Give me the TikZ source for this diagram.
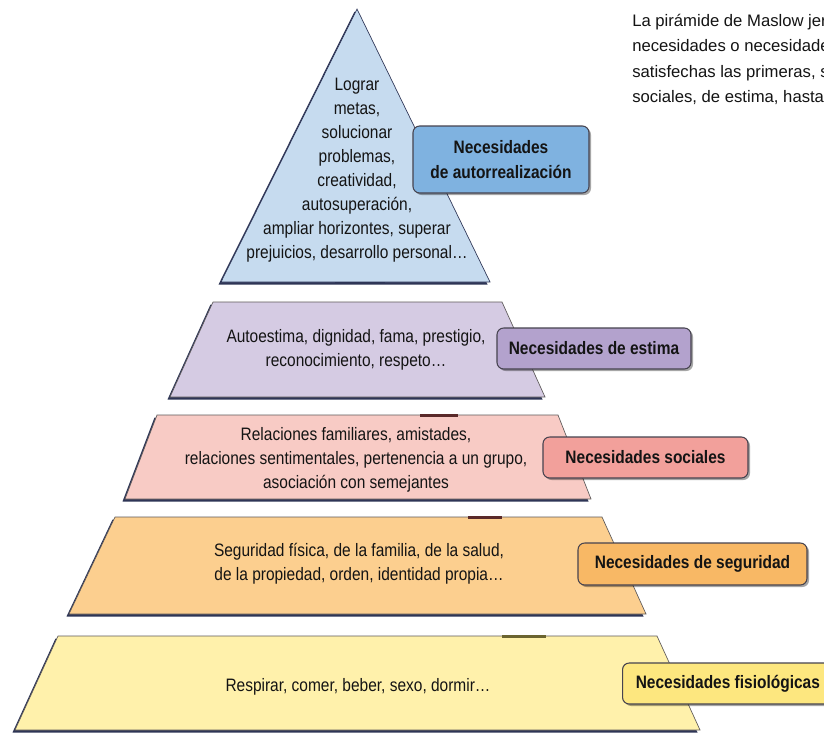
\documentclass[tikz,border=0pt]{standalone}
\usepackage{fontspec}
\setmainfont{Liberation Sans}
\newfontfamily\condfont[FakeStretch=0.86]{Liberation Sans}
\usetikzlibrary{shadows}
\definecolor{navy}{HTML}{2E3556}
\definecolor{edgegray}{HTML}{5E5A5A}
\definecolor{txt}{HTML}{141414}
\definecolor{tagedge}{HTML}{46434F}
\definecolor{tfill}{HTML}{C6DBEF}
\definecolor{tlab}{HTML}{7FB2E0}
\definecolor{efill}{HTML}{D5CBE3}
\definecolor{elab}{HTML}{B3A2CD}
\definecolor{sfill}{HTML}{F8CBC5}
\definecolor{slab}{HTML}{F2A09B}
\definecolor{gfill}{HTML}{FCCF8F}
\definecolor{glab}{HTML}{F8B865}
\definecolor{ffill}{HTML}{FFF1AB}
\definecolor{flab}{HTML}{FDE77F}
\definecolor{darkred}{HTML}{5A2A2A}
\definecolor{darkolive}{HTML}{6B6430}
\begin{document}
\begin{tikzpicture}[x=0.75pt,y=-0.75pt,
  layerbox/.style={draw=edgegray, line width=0.5pt},
  shadowbox/.style={fill=navy, shift={(-2.5,2.5)}},
  body/.style={font=\condfont\fontsize{13.5}{18}\selectfont, align=center, text=txt, inner sep=0pt},
  para/.style={font=\fontsize{12.5}{19}\selectfont, align=left, text=txt, inner sep=0pt},
  tag/.style={draw=tagedge, line width=0.8pt, rounded corners=5pt, inner sep=0pt,
    font=\condfont\bfseries\fontsize{13.5}{18.75}\selectfont, align=center, text=txt,
    drop shadow={shadow xshift=1.5pt, shadow yshift=-1.5pt, opacity=0.35, fill=black}},
  topmark/.style={line width=1.6pt},
]
\useasboundingbox (0,0) rectangle (824,733);
\clip (0,0) rectangle (824,733);
\fill[white] (0,0) rectangle (824,733);

% shadows
\fill[shadowbox] (357,9) -- (490,282) -- (221,282) -- cycle;
\fill[shadowbox] (213,302) -- (502,302) -- (545,397) -- (170,397) -- cycle;
\fill[shadowbox] (157,415) -- (558,415) -- (591,499) -- (125,499) -- cycle;
\fill[shadowbox] (115,517) -- (602,517) -- (646,614) -- (69,614) -- cycle;
\fill[shadowbox] (58,636) -- (657,636) -- (700,730) -- (15,730) -- cycle;

% layers
\filldraw[layerbox, fill=tfill, draw=navy] (357,9) -- (490,282) -- (221,282) -- cycle;
\filldraw[layerbox, fill=efill] (213,302) -- (502,302) -- (545,397) -- (170,397) -- cycle;
\filldraw[layerbox, fill=sfill] (157,415) -- (558,415) -- (591,499) -- (125,499) -- cycle;
\filldraw[layerbox, fill=gfill] (115,517) -- (602,517) -- (646,614) -- (69,614) -- cycle;
\filldraw[layerbox, fill=ffill] (58,636) -- (657,636) -- (700,730) -- (15,730) -- cycle;

% small dark marks on the edges
\draw[topmark, color=navy] (335,283) -- (385,283);
\draw[topmark, color=darkred] (420,415.5) -- (458,415.5);
\draw[topmark, color=darkred] (468,517.5) -- (502,517.5);
\draw[topmark, color=darkolive] (502,636.5) -- (546,636.5);

% texts
\node[body] (ttext) at (357,170) {Lograr\\metas,\\solucionar\\problemas,\\creatividad,\\autosuperación,\\ampliar horizontes, superar\\prejuicios, desarrollo personal…};
\node[body] (etext) at (356,350) {Autoestima, dignidad, fama, prestigio,\\reconocimiento, respeto…};
\node[body] (stext) at (356,459.5) {Relaciones familiares, amistades,\\relaciones sentimentales, pertenencia a un grupo,\\asociación con semejantes};
\node[body] (gtext) at (359,564) {Seguridad física, de la familia, de la salud,\\de la propiedad, orden, identidad propia…};
\node[body] (ftext) at (358,687) {Respirar, comer, beber, sexo, dormir…};

\node[para, anchor=north west] (intro) at (632,14) {La pirámide de Maslow jer\\necesidades o necesidade\\satisfechas las primeras, s\\sociales, de estima, hasta};

% labels
\node[tag, fill=tlab, minimum width=132pt, minimum height=50.25pt] (tlabel) at (501,159.5) {Necesidades\\de autorrealización};
\node[tag, fill=elab, minimum width=145.5pt, minimum height=30.75pt] (elabel) at (594,348.5) {Necesidades de estima};
\node[tag, fill=slab, minimum width=153.75pt, minimum height=30.75pt] (slabel) at (645.5,457.5) {Necesidades sociales};
\node[tag, fill=glab, minimum width=171.75pt, minimum height=31.5pt] (glabel) at (692.5,564) {Necesidades de seguridad};
\node[tag, fill=flab, anchor=west, minimum width=158pt, minimum height=30.75pt] (flabel) at (622,683.5) {Necesidades fisiológicas};
\end{tikzpicture}
\end{document}
